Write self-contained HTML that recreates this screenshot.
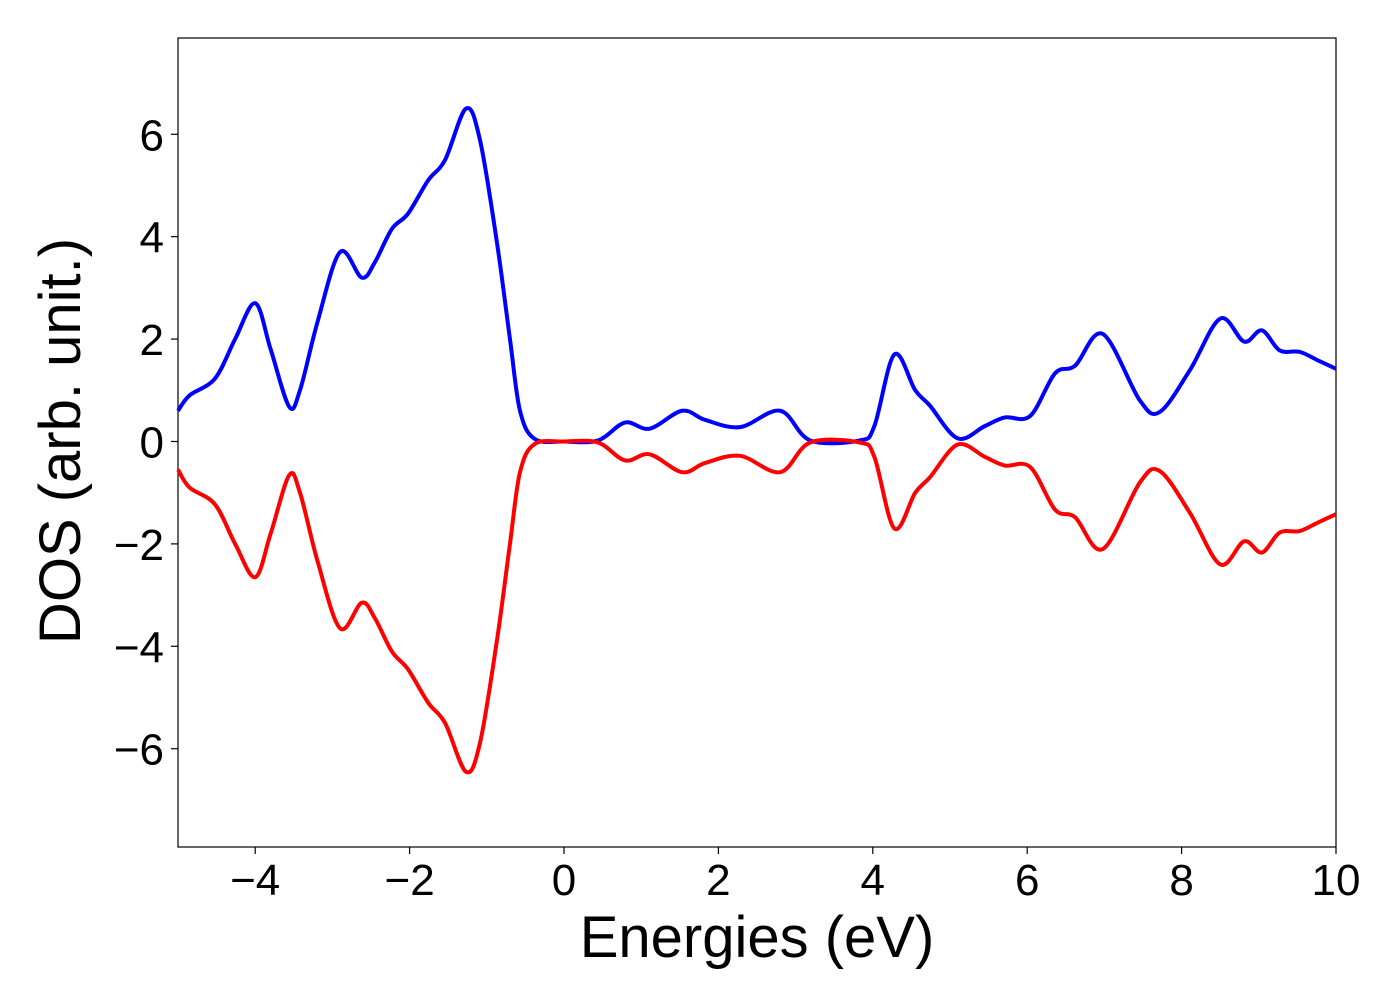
<!DOCTYPE html>
<html><head><meta charset="utf-8"><style>
html,body{margin:0;padding:0;background:#fff;}
svg{display:block;font-family:"Liberation Sans",sans-serif;}
</style></head><body>
<svg id="chart" width="1400" height="1000">
<rect x="178" y="38" width="1158" height="809" fill="none" stroke="#000" stroke-width="1.2"/>
<g id="series"></g>
<g id="xticks"></g>
<g id="yticks"></g>
<text x="757" y="957" font-size="58" text-anchor="middle">Energies (eV)</text>
<text transform="translate(80,441) rotate(-90)" font-size="58" text-anchor="middle">DOS (arb. unit.)</text>
</svg>
<script>
const energies=[-5,-4.85,-4.52,-4.26,-4.0,-3.8,-3.56,-3.42,-3.19,-2.9,-2.62,-2.45,-2.23,-2.02,-1.76,-1.54,-1.27,-1.09,-0.87,-0.7,-0.57,-0.38,0,0.44,0.79,1.11,1.53,1.83,2.28,2.8,3.19,3.83,4.02,4.28,4.55,4.74,5.1,5.45,5.71,6.04,6.36,6.62,6.98,7.46,7.72,8.11,8.5,8.81,9.04,9.27,9.53,9.77,10];
const dosUp=[0.6,0.9,1.23,2.0,2.7,1.8,0.68,1.0,2.35,3.7,3.2,3.5,4.15,4.45,5.1,5.5,6.5,5.9,3.9,2.0,0.6,0.05,0,0.02,0.37,0.25,0.6,0.42,0.28,0.6,0.02,0.02,0.3,1.7,1.0,0.7,0.06,0.3,0.47,0.5,1.33,1.48,2.1,0.8,0.58,1.4,2.4,1.95,2.17,1.78,1.75,1.58,1.42];
const dosDown=[-0.55,-0.9,-1.23,-2.0,-2.65,-1.8,-0.66,-1.0,-2.35,-3.65,-3.15,-3.45,-4.1,-4.45,-5.1,-5.5,-6.45,-5.9,-3.9,-2.0,-0.6,-0.05,0,-0.02,-0.37,-0.25,-0.6,-0.42,-0.28,-0.6,-0.02,-0.02,-0.3,-1.7,-1.0,-0.7,-0.06,-0.3,-0.47,-0.5,-1.33,-1.48,-2.1,-0.8,-0.58,-1.4,-2.4,-1.95,-2.17,-1.78,-1.75,-1.58,-1.42];
const xTicks=[-4,-2,0,2,4,6,8,10];
const yTicks=[-6,-4,-2,0,2,4,6];
const X0=178,X1=1336,Y0=847,Y1=38,xMin=-5,xMax=10,yMin=-7.92,yMax=7.88;
const sx=v=>X0+(v-xMin)/(xMax-xMin)*(X1-X0);
const sy=v=>Y0-(v-yMin)/(yMax-yMin)*(Y0-Y1);
const NS="http://www.w3.org/2000/svg";
function fmt(v){return v<0?"\u2212"+(-v):String(v);}
function path(xs,ys){
  const p=xs.map((x,i)=>[sx(x),sy(ys[i])]);
  let d="M"+p[0][0]+","+p[0][1];
  for(let i=0;i<p.length-1;i++){
    const a=p[Math.max(0,i-1)],b=p[i],c=p[i+1],e=p[Math.min(p.length-1,i+2)];
    d+=" C"+(b[0]+(c[0]-a[0])/6)+","+(b[1]+(c[1]-a[1])/6)+" "+(c[0]-(e[0]-b[0])/6)+","+(c[1]-(e[1]-b[1])/6)+" "+c[0]+","+c[1];
  }
  return d;
}
const g=document.getElementById("series");
const up=document.createElementNS(NS,"path");
up.setAttribute("d",path(energies,dosUp));up.setAttribute("fill","none");up.setAttribute("stroke","#0000ff");up.setAttribute("stroke-width","4");


g.appendChild(up);
const dn=document.createElementNS(NS,"path");
dn.setAttribute("d",path(energies,dosDown));dn.setAttribute("fill","none");dn.setAttribute("stroke","#ff0000");dn.setAttribute("stroke-width","4");


g.appendChild(dn);
const xg=document.getElementById("xticks");
xTicks.forEach(v=>{
  const l=document.createElementNS(NS,"line");
  l.setAttribute("x1",sx(v));l.setAttribute("x2",sx(v));l.setAttribute("y1",Y0);l.setAttribute("y2",Y0+7);l.setAttribute("stroke","#000");l.setAttribute("stroke-width","1.2");
  
  
  xg.appendChild(l);
  const t=document.createElementNS(NS,"text");
  t.setAttribute("x",sx(v));t.setAttribute("y",Y0+48);t.setAttribute("font-size","44");t.setAttribute("text-anchor","middle");t.textContent=fmt(v);
  
  
  xg.appendChild(t);
});
const yg=document.getElementById("yticks");
yTicks.forEach(v=>{
  const l=document.createElementNS(NS,"line");
  l.setAttribute("x1",X0-7);l.setAttribute("x2",X0);l.setAttribute("y1",sy(v));l.setAttribute("y2",sy(v));l.setAttribute("stroke","#000");l.setAttribute("stroke-width","1.2");
  
  
  yg.appendChild(l);
  const t=document.createElementNS(NS,"text");
  t.setAttribute("x",X0-14);t.setAttribute("y",sy(v)+16);t.setAttribute("font-size","44");t.setAttribute("text-anchor","end");t.textContent=fmt(v);
  
  
  yg.appendChild(t);
});
</script>
</body></html>
